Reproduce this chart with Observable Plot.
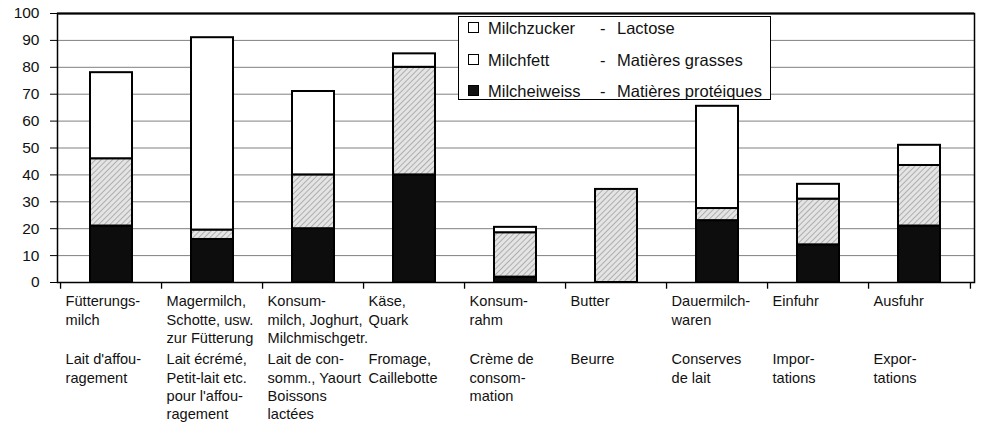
<!DOCTYPE html>
<html>
<head>
<meta charset="utf-8">
<script src="https://cdn.jsdelivr.net/npm/d3@7"></script>
<script src="https://cdn.jsdelivr.net/npm/@observablehq/plot@0.6"></script>
<style>
  html, body { margin: 0; padding: 0; background: #fff; }
  #wrap { position: relative; width: 983px; height: 433px; font-family: "Liberation Sans", Arial, sans-serif; color: #111; }
  #legend { position: absolute; left: 458px; top: 16px; width: 313px; height: 84px; border: 1px solid #000; background: #fff; box-sizing: border-box; }
  .li { position: absolute; left: 0; height: 20px; line-height: 20px; font-size: 16.5px; white-space: nowrap; }
  .sw { position: absolute; left: 9px; top: 4px; width: 11px; height: 11px; box-sizing: border-box; border: 1.5px solid #000; }
  .de { position: absolute; left: 29px; }
  .dash { position: absolute; left: 141px; }
  .fr { position: absolute; left: 158px; }
</style>
</head>
<body>
<div id="wrap"></div>
<script>
// ---- data ----
const keys = ["Fütterungsmilch","Magermilch","Konsummilch","Käse","Konsumrahm","Butter","Dauermilchwaren","Einfuhr","Ausfuhr"];
const labelsDE = [
  "Fütterungs-\nmilch",
  "Magermilch,\nSchotte, usw.\nzur Fütterung",
  "Konsum-\nmilch, Joghurt,\nMilchmischgetr.",
  "Käse,\nQuark",
  "Konsum-\nrahm",
  "Butter",
  "Dauermilch-\nwaren",
  "Einfuhr",
  "Ausfuhr"
];
const labelsFR = [
  "Lait d'affou-\nragement",
  "Lait écrémé,\nPetit-lait etc.\npour l'affou-\nragement",
  "Lait de con-\nsomm., Yaourt\nBoissons\nlactées",
  "Fromage,\nCaillebotte",
  "Crème de\nconsom-\nmation",
  "Beurre",
  "Conserves\nde lait",
  "Impor-\ntations",
  "Expor-\ntations"
];
const protein = [21, 16, 20, 40, 2, 0, 23, 14, 21];
const fat     = [25, 3.5, 20, 40, 16.5, 34.6, 4.5, 17, 22.5];
const lactose = [32, 71.5, 31, 5, 2, 0, 38, 5.5, 7.5];
const seriesNames = ["protein", "fat", "lactose"];
const yTicks = [0,10,20,30,40,50,60,70,80,90,100];
const gridTicks = [10,20,30,40,50,60,70,80,90];
const legendItems = [
  {de: "Milchzucker", fr: "Lactose", fill: "#fff"},
  {de: "Milchfett", fr: "Matières grasses", fill: "#fff"},
  {de: "Milcheiweiss", fr: "Matières protéiques", fill: "#111"}
];

// ---- table ----
const rows = [];
keys.forEach((k, i) => {
  [protein, fat, lactose].forEach((arr, j) => {
    if (arr[i] > 0) rows.push({key: k, series: seriesNames[j], value: arr[i]});
  });
});

const W = 983, H = 433, mL = 57, mR = 9, mT = 13, mB = 151;
const step = (W - mL - mR) / keys.length;
const fs = 14.6, lh = 18.2;

const chart = Plot.plot({
  width: W, height: H,
  marginLeft: mL, marginRight: mR, marginTop: mT, marginBottom: mB,
  x: {domain: keys, paddingInner: 0.58, paddingOuter: 0.29, axis: null},
  y: {domain: [0, 100], axis: null},
  color: {type: "ordinal", domain: seriesNames, range: ["#0d0d0d", "url(#fatpat)", "#ffffff"]},
  style: {fontFamily: "'Liberation Sans', Arial, sans-serif", color: "#111", background: "#fff", overflow: "visible"},
  marks: [
    Plot.ruleY(gridTicks, {stroke: "#808080", strokeWidth: 1}),
    Plot.barY(rows, {x: "key", y: "value", fill: "series", stroke: "#000", strokeWidth: 2}),
    Plot.frame({stroke: "#000", strokeWidth: 1.5}),
    Plot.ruleY([100], {stroke: "#000", strokeWidth: 2}),
    Plot.axisY({ticks: yTicks, tickSize: 7, tickPadding: 11, fontSize: 15.5, tickFormat: d => String(d), stroke: "#000", label: null}),
    Plot.ruleX(keys, {x: d => d, y1: 0, y2: -2.5, dx: -step / 2, stroke: "#000", strokeWidth: 1.3}),
    Plot.ruleX([keys[keys.length - 1]], {x: d => d, y1: 0, y2: -2.5, dx: step / 2, stroke: "#000", strokeWidth: 1.3}),
    Plot.text(keys, {x: d => d, y: 0, text: (d, i) => labelsDE[i], textAnchor: "start", lineAnchor: "top",
      dx: -step / 2 + 5, dy: 11, fontSize: fs, lineHeight: lh / fs, fill: "#111"}),
    Plot.text(keys, {x: d => d, y: 0, text: (d, i) => labelsFR[i], textAnchor: "start", lineAnchor: "top",
      dx: -step / 2 + 5, dy: 69, fontSize: fs, lineHeight: lh / fs, fill: "#111"})
  ]
});

// pattern for fat
const ns = "http://www.w3.org/2000/svg";
const defs = document.createElementNS(ns, "defs");
defs.innerHTML = `
  <pattern id="fatpat" patternUnits="userSpaceOnUse" width="4" height="4" patternTransform="rotate(45)">
    <rect width="4" height="4" fill="#e4e4e4"></rect>
    <line x1="0" y1="0" x2="0" y2="4" stroke="#8a8a8a" stroke-width="1.2"></line>
  </pattern>`;
chart.insertBefore(defs, chart.firstChild);

const wrap = document.getElementById("wrap");
wrap.appendChild(chart);

// legend
const lg = document.createElement("div");
lg.id = "legend";
legendItems.forEach((it, i) => {
  const d = document.createElement("div");
  d.className = "li";
  d.style.top = (1 + i * 31.5) + "px";
  d.style.width = "100%";
  d.innerHTML = `<span class="sw" style="background:${it.fill}"></span><span class="de">${it.de}</span><span class="dash">-</span><span class="fr">${it.fr}</span>`;
  lg.appendChild(d);
});
wrap.appendChild(lg);
</script>
</body>
</html>
